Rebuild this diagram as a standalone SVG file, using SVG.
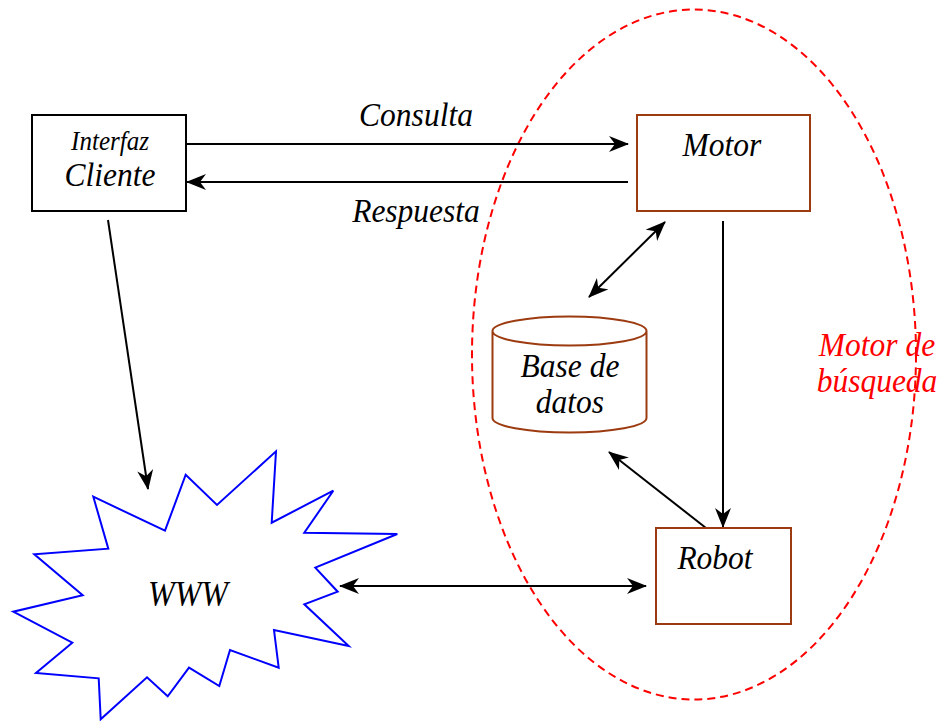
<svg xmlns="http://www.w3.org/2000/svg" width="942" height="721" viewBox="0 0 942 721">
<style>
.t{font-family:"Liberation Serif","Times New Roman",serif;font-style:italic;fill:#000;text-anchor:middle}
.r{fill:#ff0000}
.box{fill:#fff;stroke:#9c3a10;stroke-width:2}
.ln{stroke:#000;stroke-width:2;fill:none}
</style>
<defs>
<marker id="ah" markerUnits="userSpaceOnUse" markerWidth="20" markerHeight="16" refX="19" refY="8" orient="auto-start-reverse" viewBox="0 0 20 16">
<path d="M0,0 L20,8 L0,16 L6,8 z" fill="#000"/>
</marker>
</defs>
<rect width="942" height="721" fill="#fff"/>
<g id="buscador">
<ellipse cx="694" cy="354.5" rx="222" ry="345" fill="none" stroke="#ff0000" stroke-width="2" stroke-dasharray="8,5"/>
<text class="t r" transform="translate(877,356) scale(1,1.1)" font-size="31.5">Motor de</text>
<text class="t r" transform="translate(877,392) scale(1,1.1)" font-size="31.5">búsqueda</text>
</g>
<g id="connectors">
<line class="ln" x1="186" y1="144" x2="628" y2="144" marker-end="url(#ah)"/>
<line class="ln" x1="628" y1="182" x2="187" y2="182" marker-end="url(#ah)"/>
<line class="ln" x1="108" y1="220" x2="148" y2="489" marker-end="url(#ah)"/>
<line class="ln" x1="340" y1="586" x2="646" y2="586" marker-start="url(#ah)" marker-end="url(#ah)"/>
<line class="ln" x1="665" y1="222" x2="589" y2="297" marker-start="url(#ah)" marker-end="url(#ah)"/>
<line class="ln" x1="723" y1="221" x2="723" y2="527" marker-end="url(#ah)"/>
<line class="ln" x1="706" y1="528" x2="609" y2="452" marker-end="url(#ah)"/>
<text class="t" transform="translate(416,126) scale(1,1.1)" font-size="31.5">Consulta</text>
<text class="t" transform="translate(416,222) scale(1,1.1)" font-size="31.5">Respuesta</text>
</g>
<g id="interfaz">
<rect x="32" y="115" width="154" height="96" fill="#fff" stroke="#000" stroke-width="2"/>
<text class="t" transform="translate(110,150) scale(1,1.05)" font-size="25">Interfaz</text>
<text class="t" transform="translate(110,186) scale(1,1.08)" font-size="31.5">Cliente</text>
</g>
<g id="motor">
<rect class="box" x="637" y="115" width="173" height="96"/>
<text class="t" transform="translate(722,156) scale(1,1.1)" font-size="31.5">Motor</text>
</g>
<g id="basedatos">
<path class="box" d="M492.5,331 L492.5,418 A77,14.5 0 0 0 646.5,418 L646.5,331 A77,14.5 0 0 0 492.5,331 A77,14.5 0 0 0 646.5,331"/>
<text class="t" transform="translate(570,377) scale(1,1.1)" font-size="31.5">Base de</text>
<text class="t" transform="translate(570,413) scale(1,1.1)" font-size="31.5">datos</text>
</g>
<g id="robot">
<rect class="box" x="656" y="528" width="135" height="96"/>
<text class="t" transform="translate(715,569) scale(1,1.1)" font-size="31.5">Robot</text>
</g>
<g id="www">
<polygon points="93.3,496.7 165,530.7 185.7,474.7 217,505 276,451.3 271.7,522.7 333.3,490.7 304.3,532.7 397.3,534 315.3,567.7 337.7,591.7 304.3,604.3 348.7,646 274,630 278.7,667.7 230,650 219.3,686 189,667.7 167.7,696.3 147,677.3 100.7,719.3 98.7,678.3 36,673 72.3,642.7 13.3,611.7 82.7,595.3 34.3,554.3 108.3,548.7" fill="#fff" stroke="#0000ff" stroke-width="2"/>
<text class="t" transform="translate(188,606) scale(1,1.1)" font-size="32">WWW</text>
</g>
</svg>
